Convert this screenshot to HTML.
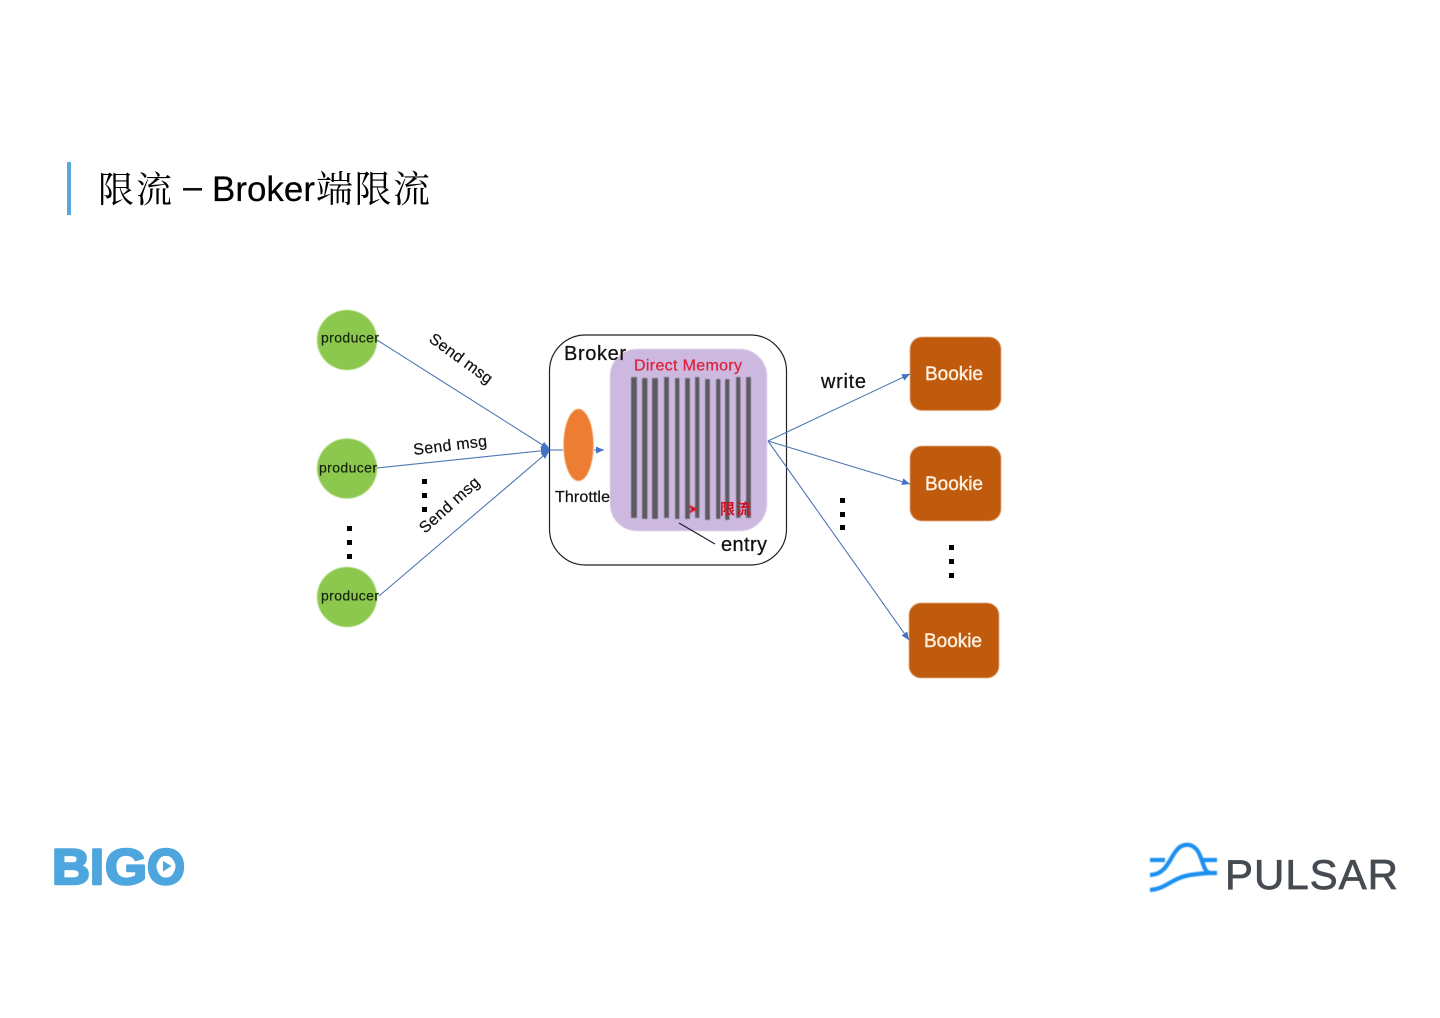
<!DOCTYPE html>
<html lang="zh">
<head>
<meta charset="utf-8">
<title>限流 – Broker端限流</title>
<style>
html,body{margin:0;padding:0;background:#fff;width:1440px;height:1018px;overflow:hidden}
svg{display:block}
text{font-family:"Liberation Sans","Noto Sans CJK SC",sans-serif}
</style>
</head>
<body>
<svg width="1440" height="1018" viewBox="0 0 1440 1018" xmlns="http://www.w3.org/2000/svg">
<defs>
<filter id="b" x="-5%" y="-5%" width="110%" height="110%"><feGaussianBlur stdDeviation="0.4"/></filter>
<marker id="a" markerWidth="9" markerHeight="8" refX="8" refY="3.5" orient="auto" markerUnits="userSpaceOnUse"><path d="M0 0L8 3.5L0 7z" fill="#4472c4"/></marker>
</defs>

<rect x="67" y="162" width="4" height="53" fill="#5aa7dc"/>
<text x="98" y="202" font-size="36" fill="#000" style="font-family:'Noto Serif CJK SC',serif" textLength="74">限流</text>
<rect x="183" y="188" width="19" height="2.600" fill="#111"/>
<text x="212" y="201" font-size="35" fill="#000" stroke="#000" stroke-width="0.2" textLength="103" lengthAdjust="spacingAndGlyphs">Broker</text>
<text x="316" y="202" font-size="37" fill="#000" style="font-family:'Noto Serif CJK SC',serif" textLength="114">端限流</text>

<rect x="549.500" y="335" width="237" height="230" rx="36" fill="#fff" stroke="#222" stroke-width="1.200"/>
<g filter="url(#b)">
<rect x="610" y="349" width="157" height="182" rx="27" fill="#cdb9e0"/>
<g fill="#5a5a5e">
<rect x="631" y="377" width="6" height="141"/><rect x="642" y="378" width="5.500" height="141"/>
<rect x="652" y="378" width="6" height="141"/><rect x="664" y="377" width="5" height="141"/>
<rect x="675" y="378" width="4.500" height="141"/><rect x="685" y="378" width="5" height="141"/>
<rect x="695" y="377" width="4.500" height="141"/><rect x="705" y="379" width="5" height="141"/>
<rect x="716" y="379" width="4.500" height="140"/><rect x="725" y="379" width="4.500" height="141"/>
<rect x="736" y="377" width="4.500" height="141"/><rect x="746" y="377" width="5" height="141"/>
</g>
<ellipse cx="578.500" cy="445" rx="15" ry="36" fill="#ed7d31"/>

<circle cx="347" cy="340" r="30" fill="#8cc84e"/>
<circle cx="347" cy="468.500" r="30" fill="#8cc84e"/>
<circle cx="347" cy="597" r="30" fill="#8cc84e"/>

<rect x="910" y="337" width="91" height="73.500" rx="12" fill="#c05a10"/>
<rect x="910" y="446" width="91" height="75" rx="12" fill="#c05a10"/>
<rect x="909" y="603" width="90" height="75" rx="12" fill="#c05a10"/>

<path d="M688 504l10 5-9 5 2-5z" fill="#d01020"/>
</g>

<g stroke="#4f77b5" stroke-width="1.100" fill="none">
<line x1="377" y1="340" x2="549" y2="449" marker-end="url(#a)"/>
<line x1="377" y1="468" x2="549" y2="450" marker-end="url(#a)"/>
<line x1="379" y1="596" x2="549" y2="451" marker-end="url(#a)"/>
<line x1="548" y1="450" x2="563" y2="450"/>
<line x1="594" y1="450" x2="604" y2="450" marker-end="url(#a)"/>
<line x1="768" y1="441" x2="910" y2="374" marker-end="url(#a)"/>
<line x1="768" y1="441" x2="910" y2="484" marker-end="url(#a)"/>
<line x1="768" y1="441" x2="909" y2="640" marker-end="url(#a)"/>
</g>
<ellipse cx="546" cy="450" rx="3" ry="5" fill="#4472c4"/>
<line x1="679" y1="523" x2="715" y2="544" stroke="#22223a" stroke-width="1.300"/>

<g fill="#000">
<rect x="347" y="526" width="5" height="5"/><rect x="347" y="540" width="5" height="5"/><rect x="347" y="554" width="5" height="5"/>
<rect x="422" y="479" width="5" height="5"/><rect x="422" y="493" width="5" height="5"/><rect x="422" y="507" width="5" height="5"/>
<rect x="840" y="498" width="5" height="5"/><rect x="840" y="512" width="5" height="5"/><rect x="840" y="525" width="5" height="5"/>
<rect x="949" y="545" width="5" height="5"/><rect x="949" y="559" width="5" height="5"/><rect x="949" y="573" width="5" height="5"/>
</g>

<g fill="#14240a" stroke="#14240a" stroke-width="0.200" font-size="14">
<text x="321" y="342.500" textLength="58">producer</text>
<text x="319" y="472.500" textLength="58">producer</text>
<text x="321" y="600.500" textLength="58">producer</text>
</g>
<g fill="#111" stroke="#111" stroke-width="0.200" font-size="16">
<text transform="translate(428 341) rotate(36)" textLength="74">Send msg</text>
<text transform="translate(414 455) rotate(-7)" textLength="74">Send msg</text>
<text transform="translate(425 534) rotate(-42)" textLength="75">Send msg</text>
<text x="555" y="502" textLength="55">Throttle</text>
</g>
<g fill="#111" stroke="#111" stroke-width="0.250" font-size="20">
<text x="564" y="360" textLength="62">Broker</text>
<text x="721" y="551" textLength="46">entry</text>
<text x="821" y="388" textLength="45">write</text>
</g>
<text x="634" y="370.500" font-size="16" fill="#e0203c" stroke="#e0203c" stroke-width="0.250" textLength="108">Direct Memory</text>
<text x="720" y="514" font-size="15" font-weight="bold" fill="#d01020" textLength="31">限流</text>
<g fill="#fdf0e0" stroke="#fdf0e0" stroke-width="0.400" font-size="19">
<text x="925" y="380" textLength="58">Bookie</text>
<text x="925" y="490" textLength="58">Bookie</text>
<text x="924" y="647" textLength="58">Bookie</text>
</g>

<g fill="#4da6dd" stroke="#4da6dd" stroke-width="2.500" stroke-linejoin="round" font-size="50" font-weight="bold">
<text x="52" y="884" textLength="38" lengthAdjust="spacingAndGlyphs">B</text>
<text x="90" y="884" textLength="14" lengthAdjust="spacingAndGlyphs">I</text>
<text x="105" y="884" textLength="42" lengthAdjust="spacingAndGlyphs">G</text>
<text x="147" y="884" textLength="38" lengthAdjust="spacingAndGlyphs">O</text>
</g>
<circle cx="166" cy="866.500" r="9.500" fill="#fff"/>
<polygon points="163,861 163,871.500 171.500,866" fill="#4da6dd"/>

<g fill="none" stroke="#1e90f0" stroke-width="4.200" filter="url(#b)">
<path d="M1150 860H1165"/>
<path d="M1203 860H1217"/>
<path d="M1150 875C1166 875 1170 858 1176 851C1180 845 1190 841 1197 850C1203 858 1203 872 1210 873H1217"/>
<path d="M1150 890C1166 889 1172 878 1190 875C1198 874 1204 873 1210 873"/>
</g>
<text x="1225" y="889" font-size="42" fill="#454b50" stroke="#454b50" stroke-width="0.700" textLength="173" lengthAdjust="spacing">PULSAR</text>
</svg>
</body>
</html>
